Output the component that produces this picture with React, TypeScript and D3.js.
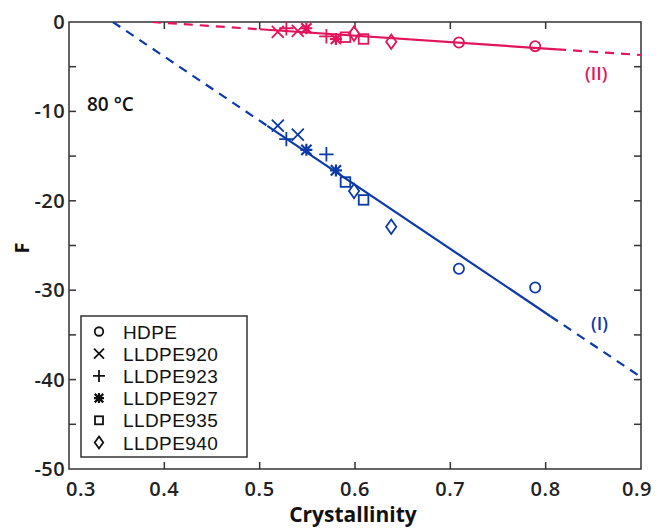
import React from 'react';
import * as d3 from 'd3';

// series names (legend order) and marker shapes
const series = ['HDPE', 'LLDPE920', 'LLDPE923', 'LLDPE927', 'LLDPE935', 'LLDPE940'];
const shapes = ['circle', 'x', 'plus', 'star', 'square', 'diamond'];

// crystallinity of each sample, per series
const seriesX = [
  [0.709, 0.789],
  [0.519, 0.540],
  [0.528, 0.570],
  [0.549, 0.580],
  [0.590, 0.609],
  [0.599, 0.638],
];
// F values, regime (I) (blue)
const seriesI = [
  [-27.6, -29.7],
  [-11.6, -12.6],
  [-13.1, -14.8],
  [-14.3, -16.6],
  [-17.9, -19.9],
  [-18.9, -22.9],
];
// F values, regime (II) (red)
const seriesII = [
  [-2.3, -2.7],
  [-1.1, -1.0],
  [-0.7, -1.6],
  [-0.7, -1.9],
  [-1.7, -1.9],
  [-1.3, -2.2],
];

// fitted lines: F = slope * (x - x0); dashed over full range, solid over [s0, s1]
const fitI = { slope: -71.7, x0: 0.346, dash: [0.346, 0.9], solid: [0.508, 0.805] };
const fitII = { slope: -7.2, x0: 0.387, dash: [0.387, 0.9], solid: [0.5, 0.812] };

const xTicks = [0.3, 0.4, 0.5, 0.6, 0.7, 0.8, 0.9];
const yTicks = [0, -10, -20, -30, -40, -50];
const yMinor = [-5, -15, -25, -35, -45];

const RED = '#e2145a';
const BLUE = '#0c3aa8';
const FONT = '"Open Sans", "Noto Sans", sans-serif';

const W = 659;
const H = 529;
const m = { left: 69, right: 18, top: 22, bottom: 60 };

const x = d3.scaleLinear().domain([0.3, 0.9]).range([m.left, W - m.right]);
const y = d3.scaleLinear().domain([-50, 0]).range([H - m.bottom, m.top]);

function Marker({ shape, cx, cy, color, size = 6 }: { shape: string; cx: number; cy: number; color: string; size?: number }) {
  const s = size;
  const common = { stroke: color, strokeWidth: 1.8, fill: 'none' };
  if (shape === 'circle') return <circle cx={cx} cy={cy} r={s * 0.85} {...common} />;
  if (shape === 'square') return <rect x={cx - s * 0.8} y={cy - s * 0.8} width={s * 1.6} height={s * 1.6} {...common} />;
  if (shape === 'diamond')
    return <path d={`M${cx},${cy - s * 1.2}L${cx + s * 0.85},${cy}L${cx},${cy + s * 1.2}L${cx - s * 0.85},${cy}Z`} {...common} />;
  if (shape === 'x')
    return <path d={`M${cx - s},${cy - s}L${cx + s},${cy + s}M${cx - s},${cy + s}L${cx + s},${cy - s}`} {...common} />;
  if (shape === 'plus')
    return <path d={`M${cx - s * 1.2},${cy}L${cx + s * 1.2},${cy}M${cx},${cy - s * 1.2}L${cx},${cy + s * 1.2}`} {...common} />;
  // star: plus + x
  const d = s * 0.85;
  return (
    <path
      d={`M${cx - s},${cy}L${cx + s},${cy}M${cx},${cy - s}L${cx},${cy + s}M${cx - d},${cy - d}L${cx + d},${cy + d}M${cx - d},${cy + d}L${cx + d},${cy - d}`}
      {...common}
      strokeWidth={2.2}
    />
  );
}

function FitLine({ fit, color }: { fit: typeof fitI; color: string }) {
  const f = (v: number) => fit.slope * (v - fit.x0);
  const line = d3.line<number>().x(v => x(v)).y(v => y(f(v)));
  return (
    <g fill="none" stroke={color} strokeWidth={2.2}>
      <path d={line([fit.dash[0], fit.solid[0]]) || ''} strokeDasharray="9,7" />
      <path d={line([fit.solid[0], fit.solid[1]]) || ''} />
      <path d={line([fit.solid[1], fit.dash[1]]) || ''} strokeDasharray="9,7" />
    </g>
  );
}

export default function App() {
  const x0 = m.left;
  const x1 = W - m.right;
  const y0 = H - m.bottom;
  const y1 = m.top;
  const legend = { left: 81, top: 316, right: 247, bottom: 457, step: 22.2 };

  // first/last x labels are nudged inward like in the original figure
  const xLabelShift = (t: number) => (t === 0.3 ? 12 : t === 0.9 ? -4 : 0);

  return (
    <svg width={W} height={H} style={{ position: 'absolute', left: 0, top: 0, background: '#fff' }} fontFamily={FONT}>
      <defs>
        <clipPath id="plot">
          <rect x={x0} y={y1} width={x1 - x0} height={y0 - y1} />
        </clipPath>
      </defs>

      {/* axes frame and ticks */}
      <rect x={x0} y={y1} width={x1 - x0} height={y0 - y1} fill="none" stroke="#333" strokeWidth={1.5} />
      {xTicks.slice(1, -1).map(t => (
        <g key={t} stroke="#333" strokeWidth={1.5}>
          <line x1={x(t)} x2={x(t)} y1={y0} y2={y0 - 7} />
          <line x1={x(t)} x2={x(t)} y1={y1} y2={y1 + 7} />
        </g>
      ))}
      {yTicks.concat(yMinor).slice(1).filter(t => t !== -50).map(t => (
        <g key={t} stroke="#333" strokeWidth={1.5}>
          <line x1={x0} x2={x0 + 7} y1={y(t)} y2={y(t)} />
          <line x1={x1} x2={x1 - 7} y1={y(t)} y2={y(t)} />
        </g>
      ))}
      {xTicks.map(t => (
        <text key={t} x={x(t) + xLabelShift(t)} y={y0 + 27} textAnchor="middle" fontSize={20} fontWeight={600}
          letterSpacing={0.6} fill="#222">
          {t.toFixed(1)}
        </text>
      ))}
      {yTicks.map(t => (
        <text key={t} x={x0 - 4} y={y(t) + 7} textAnchor="end" fontSize={20} fontWeight={600} letterSpacing={0.4} fill="#222">
          {t}
        </text>
      ))}
      <text x={(x0 + x1) / 2 - 2} y={522} textAnchor="middle" fontSize={21} fontWeight={700} fill="#111">
        Crystallinity
      </text>
      <text transform={`translate(29,248) rotate(-90)`} textAnchor="middle" fontSize={20} fontWeight={700} fill="#111">
        F
      </text>

      {/* fit lines and points */}
      <g clipPath="url(#plot)">
        <FitLine fit={fitI} color={BLUE} />
        <FitLine fit={fitII} color={RED} />
        {series.map((s, i) =>
          seriesX[i].map((xv, j) => (
            <g key={s + j}>
              <Marker shape={shapes[i]} cx={x(xv)} cy={y(seriesI[i][j])} color={BLUE} />
              <Marker shape={shapes[i]} cx={x(xv)} cy={y(seriesII[i][j])} color={RED} />
            </g>
          ))
        )}
      </g>

      <text x={87} y={111} fontSize={19} fontWeight={600} fill="#111">80 °C</text>
      <text x={585} y={80} fontSize={18} fontWeight={600} fill={RED}>(II)</text>
      <text x={591} y={330} fontSize={18} fontWeight={600} fill={BLUE}>(I)</text>

      {/* legend */}
      <rect
        x={legend.left}
        y={legend.top}
        width={legend.right - legend.left}
        height={legend.bottom - legend.top}
        fill="#fff"
        stroke="#333"
        strokeWidth={1.5}
      />
      {series.map((s, i) => {
        const cy = legend.top + 15.5 + i * legend.step;
        return (
          <g key={s}>
            <Marker shape={shapes[i]} cx={99} cy={cy} color="#111" size={5} />
            <text x={123} y={cy + 7} fontSize={19} fontFamily='"Liberation Sans", Arial, sans-serif'
              letterSpacing={0.4} fill="#111">{s}</text>
          </g>
        );
      })}
    </svg>
  );
}
